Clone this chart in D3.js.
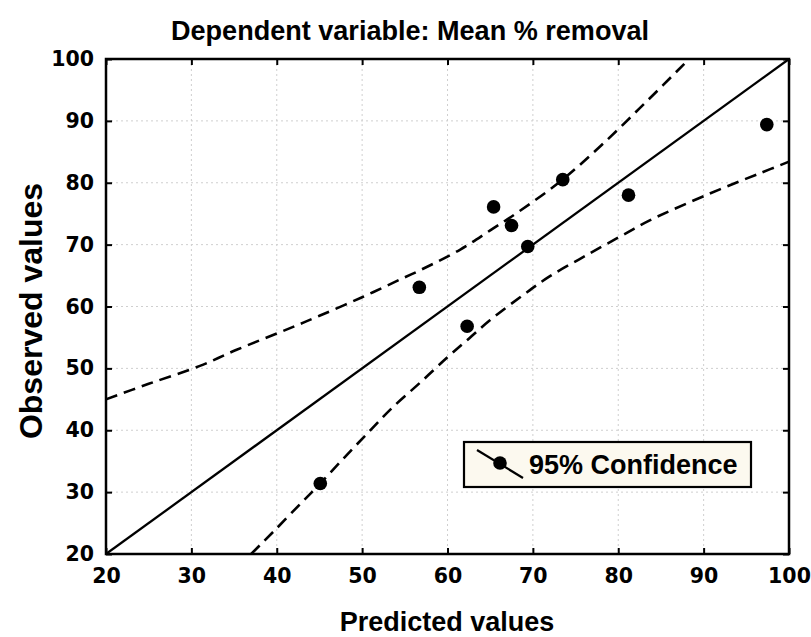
<!DOCTYPE html>
<meta charset="utf-8">
<script src="https://d3js.org/d3.v7.min.js"></script>
<style>
  body { margin: 0; background: #fff; }
  text { font-family: "Liberation Sans", Arial, sans-serif; font-weight: bold; fill: #000; }
  .tick-label { font-family: "DejaVu Sans", sans-serif; font-size: 20.5px; }
</style>
<div id="my_dataviz"></div>
<script>

// observed vs predicted points
var predicted = [45.1, 56.7, 62.3, 65.4, 67.5, 69.4, 73.5, 81.2, 97.4];
var observed  = [31.4, 63.1, 56.8, 76.1, 73.1, 69.7, 80.5, 78.0, 89.4];

// 95% confidence band, upper curve
var upperX = [20, 25, 31, 35.3, 41.2, 45, 50, 54.5, 57, 61.5, 65, 68.1, 73.2, 77.9, 83, 88.3];
var upperY = [45, 47.5, 50.4, 53.0, 56.3, 58.5, 61.5, 64.4, 66.0, 69.2, 72.3, 75.1, 80.2, 85.9, 92.7, 100];

// 95% confidence band, lower curve
var lowerX = [37, 39.6, 42.9, 45.1, 48, 50.9, 53.5, 56.8, 60, 62.5, 65, 68.9, 72, 76.3, 81, 83.8, 90.8, 96.7, 100];
var lowerY = [20, 23.6, 28.3, 31.4, 35.7, 39.9, 43.6, 47.7, 51.8, 54.8, 57.8, 61.9, 64.9, 68.3, 71.9, 74.0, 78.3, 81.6, 83.4];

// fitted line
var fitX = [20, 100];
var fitY = [20, 100];

var xTicks = [20, 30, 40, 50, 60, 70, 80, 90, 100];
var yTicks = [20, 30, 40, 50, 60, 70, 80, 90, 100];

var W = 811, H = 637;
var margin = {top: 59, right: 22, bottom: 83, left: 106},
    width = W - margin.left - margin.right,
    height = H - margin.top - margin.bottom;

var svg = d3.select("#my_dataviz")
  .append("svg")
    .attr("width", W)
    .attr("height", H);

var g = svg.append("g")
    .attr("transform", "translate(" + margin.left + "," + margin.top + ")");

var x = d3.scaleLinear().domain([20, 100]).range([0, width]);
var y = d3.scaleLinear().domain([20, 100]).range([height, 0]);

g.append("clipPath").attr("id", "plotclip")
  .append("rect").attr("width", width).attr("height", height);

// grid
g.selectAll(".vgrid")
  .data(xTicks.slice(1, -1))
  .enter().append("line")
    .attr("x1", function(d) { return x(d); })
    .attr("x2", function(d) { return x(d); })
    .attr("y1", 0).attr("y2", height)
    .attr("stroke", "#cfcfcf").attr("stroke-width", 1)
    .attr("stroke-dasharray", "2,3");
g.selectAll(".hgrid")
  .data(yTicks.slice(1, -1))
  .enter().append("line")
    .attr("y1", function(d) { return y(d); })
    .attr("y2", function(d) { return y(d); })
    .attr("x1", 0).attr("x2", width)
    .attr("stroke", "#cfcfcf").attr("stroke-width", 1)
    .attr("stroke-dasharray", "2,3");

// axes (ticks pointing inward)
var tickLen = 6;
g.append("g").attr("transform", "translate(0," + height + ")")
  .call(d3.axisBottom(x).tickValues(xTicks).tickSize(-tickLen).tickPadding(14).tickFormat(d3.format("d")));
g.append("g")
  .call(d3.axisTop(x).tickValues(xTicks).tickSize(-tickLen).tickFormat(""));
g.append("g")
  .call(d3.axisLeft(y).tickValues(yTicks).tickSize(-tickLen).tickPadding(12).tickFormat(d3.format("d")));
g.append("g").attr("transform", "translate(" + width + ",0)")
  .call(d3.axisRight(y).tickValues(yTicks).tickSize(-tickLen).tickFormat(""));

g.selectAll(".domain").remove();
g.selectAll(".tick line").attr("stroke", "#000").attr("stroke-width", 2);
g.selectAll(".tick text").attr("class", "tick-label").attr("fill", "#000");

var line = d3.line()
  .x(function(d) { return x(d[0]); })
  .y(function(d) { return y(d[1]); });
var smooth = d3.line().curve(d3.curveCatmullRom)
  .x(function(d) { return x(d[0]); })
  .y(function(d) { return y(d[1]); });

var lines = g.append("g").attr("clip-path", "url(#plotclip)");

lines.append("path")
  .attr("d", line(d3.zip(fitX, fitY)))
  .attr("fill", "none").attr("stroke", "#000").attr("stroke-width", 2.3);

lines.append("path")
  .attr("d", smooth(d3.zip(upperX, upperY)))
  .attr("fill", "none").attr("stroke", "#000").attr("stroke-width", 2.6)
  .attr("stroke-dasharray", "12,7");

lines.append("path")
  .attr("d", smooth(d3.zip(lowerX, lowerY)))
  .attr("fill", "none").attr("stroke", "#000").attr("stroke-width", 2.6)
  .attr("stroke-dasharray", "12,7");

// points
g.selectAll(".pt")
  .data(d3.zip(predicted, observed))
  .enter().append("circle")
    .attr("cx", function(d) { return x(d[0]); })
    .attr("cy", function(d) { return y(d[1]); })
    .attr("r", 6.8)
    .attr("fill", "#000");

// frame
g.append("rect")
  .attr("width", width).attr("height", height)
  .attr("fill", "none").attr("stroke", "#000").attr("stroke-width", 2.5);

// legend
var legend = svg.append("g").attr("transform", "translate(464,442)");
legend.append("rect")
  .attr("width", 287).attr("height", 45)
  .attr("fill", "#fcf9ef").attr("stroke", "#000").attr("stroke-width", 2.2);
legend.append("line")
  .attr("x1", 13).attr("y1", 8).attr("x2", 59).attr("y2", 36)
  .attr("stroke", "#000").attr("stroke-width", 2.2);
legend.append("circle")
  .attr("cx", 36).attr("cy", 21).attr("r", 6.8).attr("fill", "#000");
legend.append("text")
  .attr("x", 65).attr("y", 32)
  .style("font-size", "27px")
  .text("95% Confidence");

// titles
svg.append("text")
  .attr("x", 410).attr("y", 40)
  .attr("text-anchor", "middle")
  .style("font-size", "27px")
  .attr("textLength", 478)
  .attr("lengthAdjust", "spacingAndGlyphs")
  .text("Dependent variable: Mean % removal");

svg.append("text")
  .attr("x", 447).attr("y", 631)
  .attr("text-anchor", "middle")
  .style("font-size", "27px")
  .text("Predicted values");

svg.append("text")
  .attr("transform", "translate(42,311) rotate(-90)")
  .attr("text-anchor", "middle")
  .style("font-size", "32px")
  .text("Observed values");

</script>
